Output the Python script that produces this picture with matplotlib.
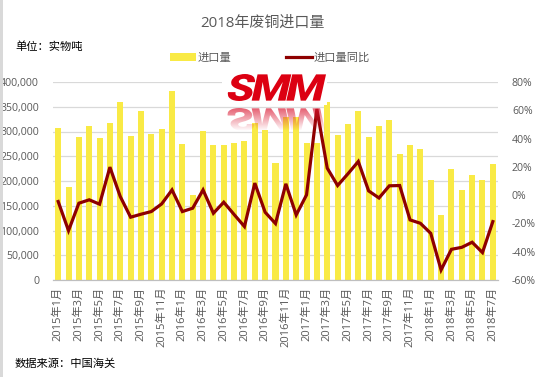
import numpy as np
import matplotlib
matplotlib.use("Agg")
import matplotlib.pyplot as plt
from matplotlib.ticker import FuncFormatter
from matplotlib.textpath import TextPath
from matplotlib.font_manager import FontProperties
from matplotlib.patches import PathPatch, Rectangle
from matplotlib.transforms import Affine2D
from matplotlib.path import Path

plt.rcParams['font.family'] = ['Open Sans', 'Noto Sans CJK SC', 'DejaVu Sans']

# 月份 2015年1月 ~ 2018年7月
months = [f"{y}年{m}月" for y in range(2015, 2019) for m in range(1, 13)][:43]

# 进口量（实物吨）
volume = [307000, 187500, 288700, 311000, 286700, 317000, 359500, 290700, 341300, 294800,
          305200, 381800, 275200, 172000, 301500, 272500, 272500, 277200, 281300, 317700,
          303500, 236000, 329000, 329000, 277000, 276000, 359500, 292700, 315700, 341300,
          288700, 311000, 323000, 254000, 272500, 264400, 202400, 130900, 224000, 182000,
          211800, 202400, 234000]

# 进口量同比（%）
yoy = [-4.5, -25.1, -5.7, -3.3, -6.4, 19.8, -1.0, -15.6, -13.5, -11.6,
       -6.2, 3.7, -11.6, -9.2, 3.7, -12.8, -5.0, -13.7, -22.2, 8.5,
       -12.1, -20.1, 8.0, -14.0, 0.2, 60.9, 19.1, 6.8, 15.1, 23.8,
       3.0, -2.0, 6.6, 6.8, -17.5, -19.9, -27.0, -52.9, -38.3, -36.9,
       -33.3, -40.6, -18.7]

bar_color = '#F9EA45'
line_color = '#8E0000'
text_gray = '#595959'

W, H = 554, 377
fig = plt.figure(figsize=(W / 100, H / 100), dpi=100)
ax = fig.add_axes([53 / W, 1 - 280 / H, 445 / W, 198 / H])
ax2 = ax.twinx()

x = np.arange(len(months))
bars = ax.bar(x, volume, width=0.58, color=bar_color, zorder=2, label='进口量')
line, = ax2.plot(x, yoy, color=line_color, lw=2.3, zorder=3, label='进口量同比',
                 solid_joinstyle='miter')

ax.set_xlim(-0.5, len(months) - 0.5)
ax.set_ylim(0, 400000)
ax.set_yticks(np.arange(0, 400001, 50000))
ax.yaxis.set_major_formatter(FuncFormatter(lambda v, p: f"{v:,.0f}"))
ax.grid(axis='y', color='#D9D9D9', lw=0.9, zorder=0)
ax.set_axisbelow(True)
ax2.set_ylim(-60, 80)
ax2.set_yticks(np.arange(-60, 81, 20))
ax2.yaxis.set_major_formatter(FuncFormatter(lambda v, p: f"{v:.0f}%"))

ax.set_xticks(x[::2])
ax.set_xticklabels(months[::2], rotation=90, fontsize=8, color=text_gray)
for a in (ax, ax2):
    for s in ('top', 'left', 'right'):
        a.spines[s].set_visible(False)
    a.spines['bottom'].set_color('#BFBFBF')
    a.tick_params(length=0, labelsize=7.6, labelcolor=text_gray)
ax.tick_params(axis='y', pad=10)
ax2.tick_params(axis='y', pad=10)
ax.tick_params(axis='x', pad=5, labelsize=8)

fig.text(262 / W, 1 - 23 / H, '2018年废铜进口量', ha='center', va='center',
         fontsize=10.8, color=text_gray)
fig.text(15 / W, 1 - 47 / H, '单位：实物吨', ha='left', va='center', fontsize=8.1,
         color='black')
fig.text(15 / W, 1 - 364 / H, '数据来源：中国海关', ha='left', va='center', fontsize=8.1,
         color='black')

fig.legend(handles=[bars, line], loc='center', bbox_to_anchor=(270 / W, 1 - 58 / H),
           ncol=2, frameon=False, fontsize=8.1, handlelength=2.3, handletextpad=0.15,
           columnspacing=4.8, labelcolor=text_gray, borderpad=0)

# overlay in pixel coords for the SMM logo and the left edge strip
ov = fig.add_axes([0, 0, 1, 1], zorder=10)
ov.patch.set_alpha(0)
ov.axis('off')
ov.add_patch(Rectangle((0, 0), 2.5, H, color='#D9D9D9', lw=0))
ov.add_patch(Rectangle((222, 66), 105, 39, color='white', lw=0))

# letters laid out one by one so they sit close together
fp = FontProperties(family='Roboto', weight='black')
verts, codes = [], []
pen = 0.0
for ch in "SMM":
    p = TextPath((0, 0), ch, prop=fp, size=1)
    e = p.get_extents()
    verts.append(p.vertices + [pen - e.x0, 0])
    codes.append(p.codes)
    pen += e.width + 0.02
tp = Path(np.concatenate(verts), np.concatenate(codes))
bb = tp.get_extents()
skew = 0.22
sy = 27 / bb.height
sx = (100 - 27 * skew) / bb.width
base = Affine2D().translate(-bb.x0, -bb.y0)
logo_t = base + Affine2D().scale(sx, sy).skew(skew, 0).scale(1, -1).translate(226, 101)
ov.add_patch(PathPatch(logo_t.transform_path(tp), color='#DC0012', lw=0))
refl_t = base + Affine2D().scale(sx, sy * 0.85).skew(skew, 0).translate(226, 108)
refl = PathPatch(refl_t.transform_path(tp), facecolor='none', edgecolor='none')
ov.add_patch(refl)
grad = np.zeros((60, 1, 4))
grad[:, 0, 0] = 0.86
grad[:, 0, 1] = 0.1
grad[:, 0, 2] = 0.2
grad[:, 0, 3] = np.linspace(0.7, 0.0, 60)
im = ov.imshow(grad, extent=(220, 340, 131, 108), aspect='auto', interpolation='bilinear')
im.set_clip_path(refl)

ov.set_xlim(0, W)
ov.set_ylim(H, 0)

fig.savefig('out.png', dpi=100)
